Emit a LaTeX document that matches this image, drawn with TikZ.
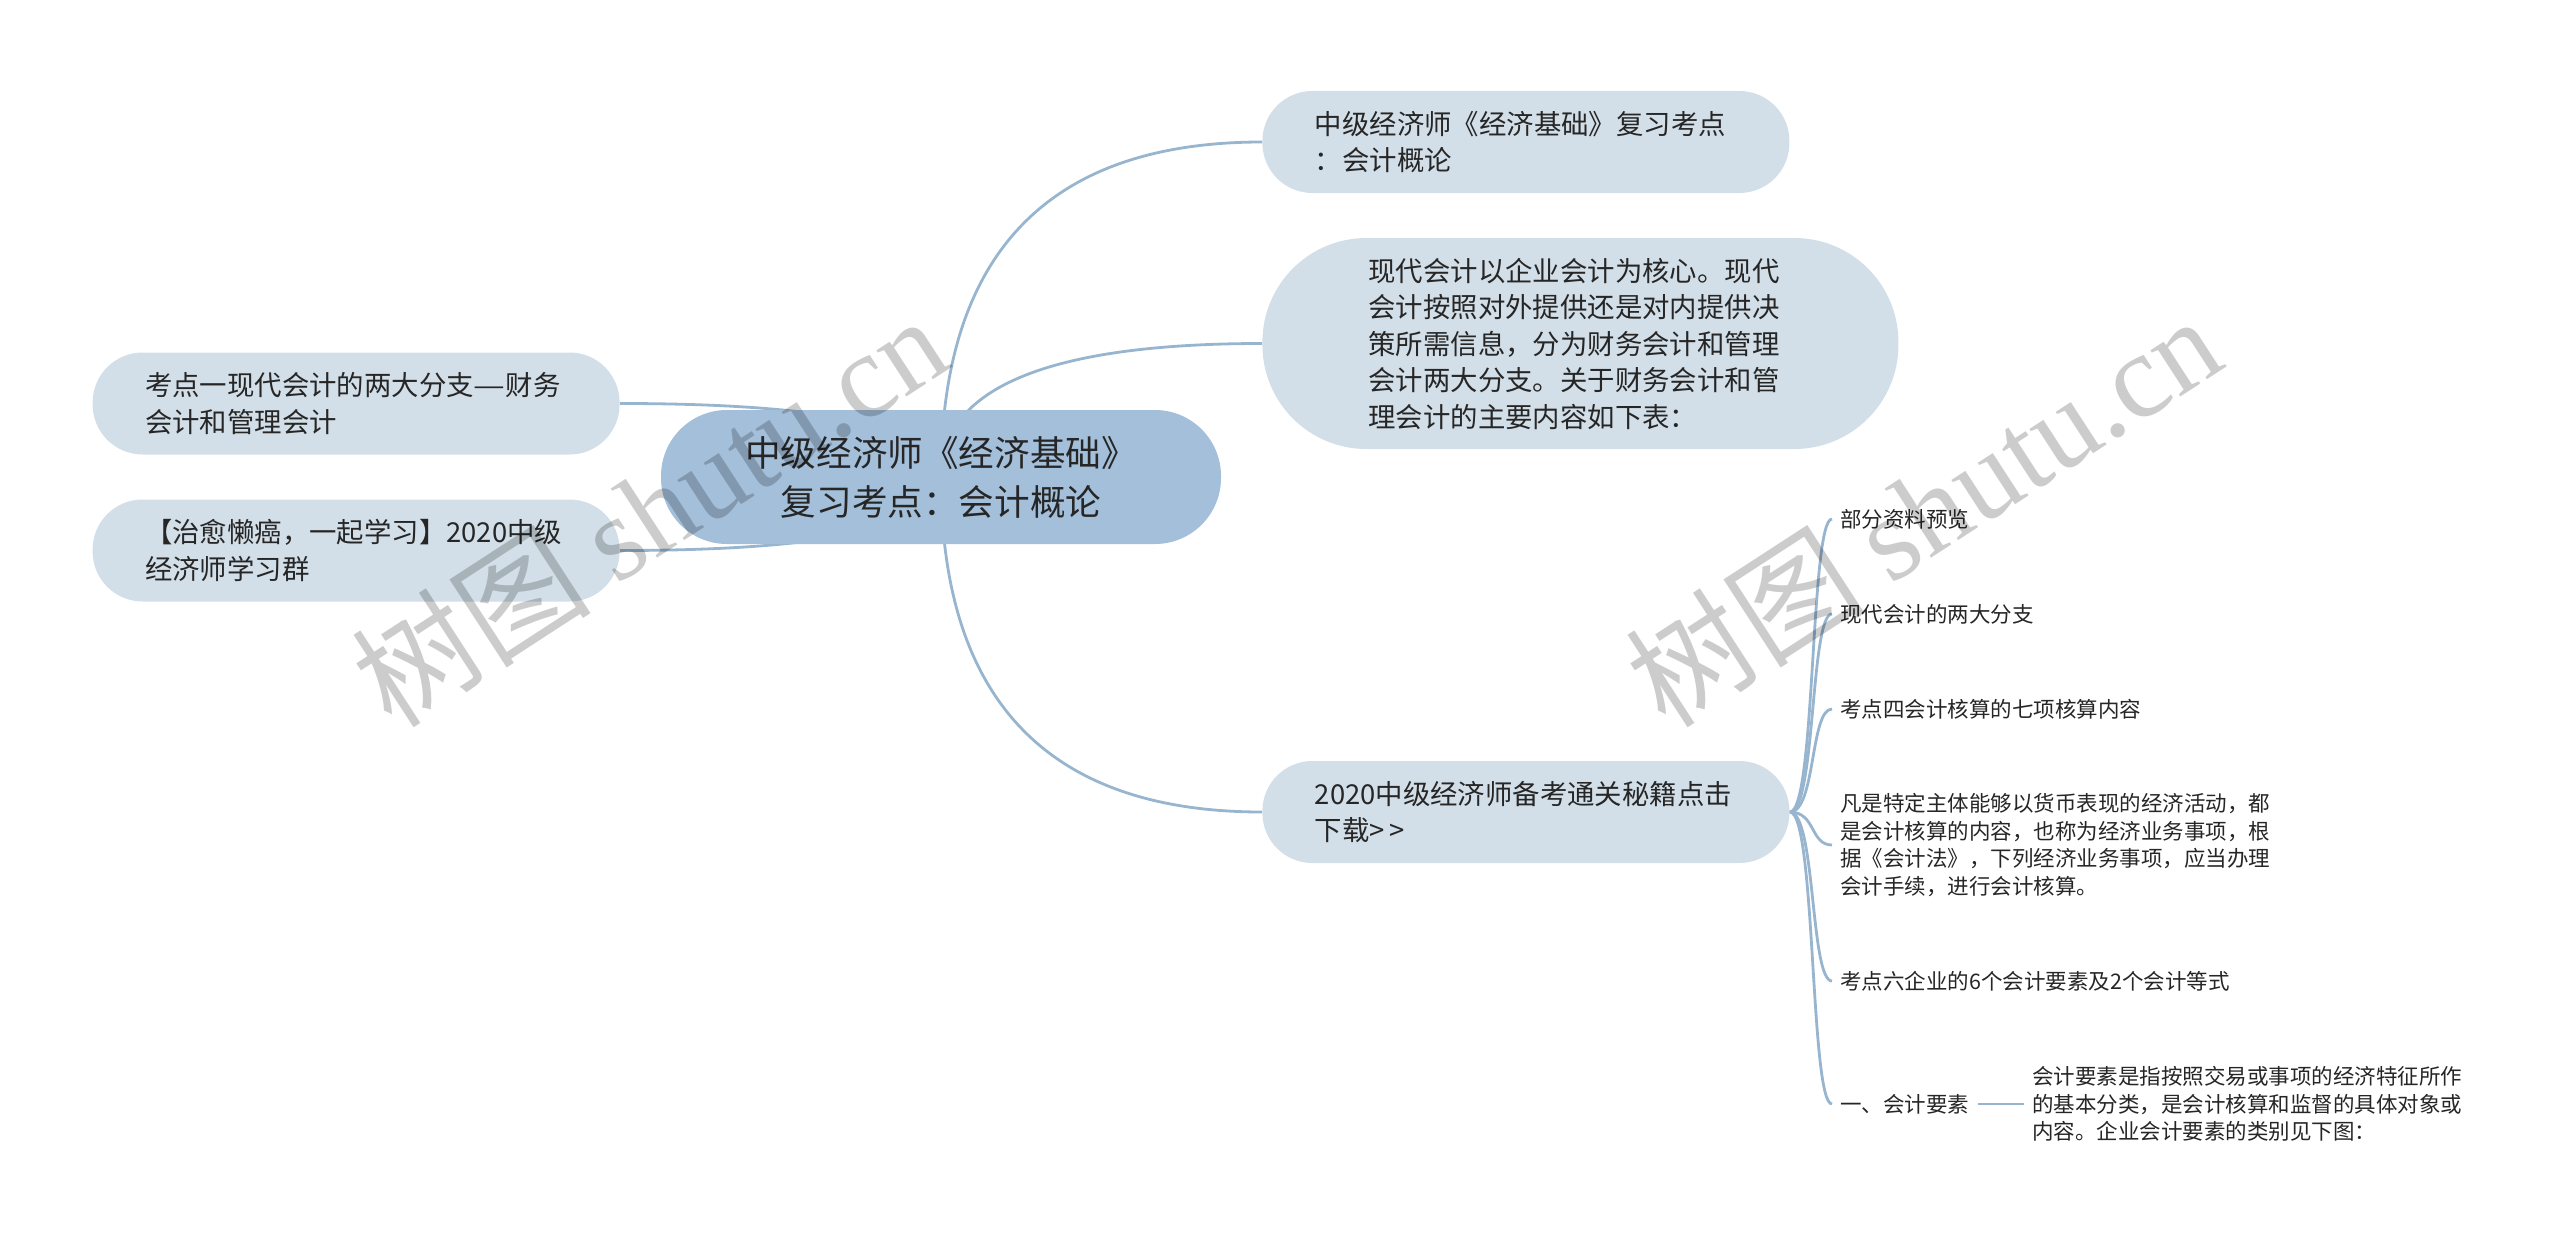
\documentclass[tikz,border=0pt]{standalone}
\usepackage{fontspec}
\newfontfamily\cjk{Noto Sans CJK SC}
\newfontfamily\wmfont{Liberation Serif}
\usepackage{tikz}
\usetikzlibrary{positioning,calc,backgrounds}
\definecolor{rootfill}{HTML}{A3BFDA}
\definecolor{topicfill}{HTML}{D3DFE8}
\definecolor{linkcol}{HTML}{97B5CF}
\definecolor{txtcol}{HTML}{262626}
\tikzset{
root/.style={fill=rootfill, rounded corners=33pt, minimum width=280pt, minimum height=67pt,
align=center, text=txtcol, font=\cjk\fontsize{17.8}{24.5}\selectfont},
topic/.style={fill=topicfill, rounded corners=25pt, minimum width=263.5pt, minimum height=51pt,
text width=211pt, inner xsep=26pt, align=left, text=txtcol, font=\cjk\fontsize{13.7}{18.25}\selectfont},
leaf/.style={anchor=west, inner xsep=4pt, inner ysep=1pt, align=left, text=txtcol,
font=\cjk\fontsize{10.75}{13.75}\selectfont},
link/.style={draw=linkcol, line width=1.4pt},
wmark/.style={text=black, text opacity=0.2, font=\cjk\fontsize{60}{60}\selectfont}
}

\begin{document}
\begin{tikzpicture}[x=0.5pt,y=-0.5pt]
\useasboundingbox (0,0) rectangle (2560,1247);
% main topic
\node[root](root) at (941,477){中级经济师《经济基础》\\复习考点：会计概论};
% right side
\node[topic,anchor=west](n1) at (1262,142){中级经济师《经济基础》复习考点\\：会计概论};
\node[topic,anchor=west,text width=212pt,inner xsep=53pt,rounded corners=52pt,minimum height=105.5pt](n2) at (1262,343.5){现代会计以企业会计为核心。现代\\会计按照对外提供还是对内提供决\\策所需信息，分为财务会计和管理\\会计两大分支。关于财务会计和管\\理会计的主要内容如下表：};
\node[topic,anchor=west](n3) at (1262,812){2020中级经济师备考通关秘籍点击\\下载>\,>};
% left side
\node[topic,anchor=east](l1) at (620,403.5){考点一现代会计的两大分支\scalebox{1.3}[1]{—}财务\\会计和管理会计};
\node[topic,anchor=east](l2) at (620,550.5){【治愈懒癌，一起学习】2020中级\\经济师学习群};
% leaves
\node[leaf](k1) at (1832,519){部分资料预览};
\node[leaf](k2) at (1832,614){现代会计的两大分支};
\node[leaf](k3) at (1832,709){考点四会计核算的七项核算内容};
\node[leaf](k4) at (1832,845){凡是特定主体能够以货币表现的经济活动，都\\是会计核算的内容，也称为经济业务事项，根\\据《会计法》，下列经济业务事项，应当办理\\会计手续，进行会计核算。};
\node[leaf](k5) at (1832,981){考点六企业的6个会计要素及2个会计等式};
\node[leaf](k6) at (1832,1104){一、会计要素};
\node[leaf,right=23pt of k6](k7){会计要素是指按照交易或事项的经济特征所作\\的基本分类，是会计核算和监督的具体对象或\\内容。企业会计要素的类别见下图：};
% connectors
\begin{scope}[on background layer]
\foreach \t/\a in {n1/west,n2/west,n3/west,l1/east,l2/east}
\draw[link](root.center) .. controls ($(root.center)!2/3!(root.center |- \t.\a)$) and ($(\t.\a)!2/3!(root.center |- \t.\a)$) .. (\t.\a);
\foreach \t in {k1,k2,k3,k4,k5,k6}
\draw[link](n3.east) .. controls +(26,0) and +(-22,0) .. (\t.west);
\draw[link](k6)--(k7);
\end{scope}
% watermark
\node[wmark,rotate=33](wm1) at (649,510){树图 {\wmfont shutu.cn}};
\node[wmark,rotate=33](wm2) at (1923,510){树图 {\wmfont shutu.cn}};
\end{tikzpicture}
\end{document}
